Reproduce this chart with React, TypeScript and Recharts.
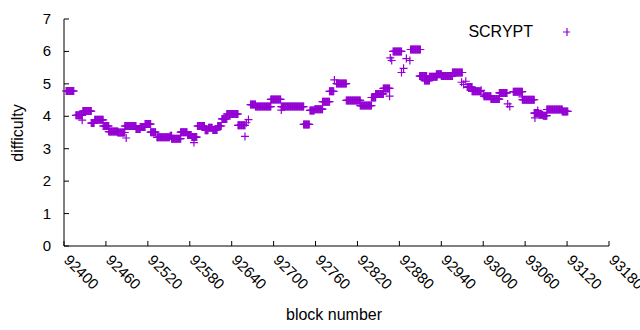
import React from "react";
import { ScatterChart, Scatter, XAxis, YAxis } from "recharts";

const purple = "#9400d3";
const font = "'Liberation Sans', Arial, sans-serif";

// difficulty: [first block, last block, difficulty]
const runs: [number, number, number][] = [
  [92403, 92414, 4.78],
  [92417, 92426, 4.03],
  [92426, 92426, 3.88],
  [92427, 92439, 4.16],
  [92439, 92443, 3.79],
  [92444, 92456, 3.89],
  [92456, 92464, 3.7],
  [92464, 92477, 3.53],
  [92477, 92487, 3.5],
  [92489, 92489, 3.33],
  [92487, 92503, 3.7],
  [92503, 92509, 3.61],
  [92509, 92516, 3.67],
  [92516, 92524, 3.76],
  [92524, 92531, 3.51],
  [92533, 92551, 3.35],
  [92552, 92554, 3.4],
  [92554, 92567, 3.31],
  [92567, 92576, 3.51],
  [92577, 92582, 3.42],
  [92583, 92590, 3.36],
  [92586, 92586, 3.19],
  [92591, 92601, 3.7],
  [92602, 92606, 3.57],
  [92607, 92612, 3.65],
  [92613, 92619, 3.58],
  [92620, 92625, 3.7],
  [92626, 92633, 3.92],
  [92633, 92649, 4.07],
  [92649, 92659, 3.72],
  [92659, 92659, 3.38],
  [92661, 92661, 3.8],
  [92664, 92664, 3.9],
  [92667, 92674, 4.36],
  [92674, 92696, 4.3],
  [92696, 92710, 4.52],
  [92711, 92711, 4.19],
  [92711, 92743, 4.3],
  [92743, 92751, 3.75],
  [92752, 92758, 4.18],
  [92759, 92770, 4.22],
  [92770, 92780, 4.45],
  [92780, 92786, 4.77],
  [92787, 92787, 5.12],
  [92790, 92804, 5.01],
  [92804, 92824, 4.49],
  [92824, 92840, 4.33],
  [92840, 92846, 4.58],
  [92846, 92857, 4.69],
  [92857, 92866, 4.86],
  [92866, 92866, 4.62],
  [92867, 92867, 5.8],
  [92869, 92869, 5.72],
  [92871, 92883, 6.0],
  [92883, 92883, 5.35],
  [92886, 92886, 5.48],
  [92890, 92890, 5.78],
  [92895, 92895, 5.72],
  [92896, 92910, 6.06],
  [92909, 92919, 5.24],
  [92916, 92923, 5.1],
  [92923, 92934, 5.22],
  [92933, 92940, 5.3],
  [92940, 92956, 5.24],
  [92956, 92970, 5.35],
  [92969, 92969, 5.05],
  [92972, 92972, 4.98],
  [92975, 92975, 5.08],
  [92977, 92984, 4.9],
  [92984, 92996, 4.77],
  [92997, 92997, 4.8],
  [93000, 93000, 4.68],
  [93001, 93011, 4.62],
  [93011, 93023, 4.53],
  [93023, 93034, 4.72],
  [93035, 93035, 4.38],
  [93038, 93038, 4.3],
  [93043, 93056, 4.76],
  [93056, 93056, 4.6],
  [93056, 93073, 4.51],
  [93073, 93079, 4.1],
  [93074, 93074, 3.95],
  [93078, 93078, 4.18],
  [93080, 93085, 4.05],
  [93086, 93091, 4.02],
  [93091, 93113, 4.21],
  [93113, 93121, 4.15],
];

const xTicks = [92400, 92460, 92520, 92580, 92640, 92700, 92760, 92820, 92880, 92940, 93000, 93060, 93120, 93180];
const yTicks = [0, 1, 2, 3, 4, 5, 6, 7];

const points: { block: number; difficulty: number }[] = [];
runs.forEach(([a, b, v]) => {
  for (let n = a; n <= b; n++) points.push({ block: n, difficulty: v });
});

const Cross = (props: any) => {
  const { cx, cy } = props;
  if (cx == null || cy == null) return null;
  return (
    <path d={`M${cx - 4},${cy}h8M${cx},${cy - 4}v8`} stroke={purple} strokeWidth={1.2} fill="none" />
  );
};

const BottomTick = (props: any) => {
  const { x, y, payload } = props;
  const ty = y + 15;
  return (
    <g>
      <line x1={x} y1={y} x2={x} y2={y - 5} stroke="#000" />
      <text x={x - 1} y={ty} transform={`rotate(45 ${x - 1} ${ty})`} fontSize={15} fontFamily={font} fill="#000">
        {payload.value}
      </text>
    </g>
  );
};

const TopTick = (props: any) => {
  const { x, y } = props;
  return <line x1={x} y1={y} x2={x} y2={y + 5} stroke="#000" />;
};

const LeftTick = (props: any) => {
  const { x, y, payload } = props;
  return (
    <g>
      <line x1={x} y1={y} x2={x + 5} y2={y} stroke="#000" />
      <text x={x - 13} y={y + 5} textAnchor="end" fontSize={15} fontFamily={font} fill="#000">
        {payload.value}
      </text>
    </g>
  );
};

const RightTick = (props: any) => {
  const { x, y } = props;
  return <line x1={x} y1={y} x2={x - 5} y2={y} stroke="#000" />;
};

export default function App() {
  return (
    <div style={{ position: "absolute", left: 0, top: 0, width: 640, height: 330, background: "#fff", fontFamily: font }}>
      <ScatterChart width={640} height={330} margin={{ top: 19, right: 31, left: 0, bottom: 0 }}>
        <XAxis
          xAxisId="bottom"
          dataKey="block"
          type="number"
          domain={[92400, 93180]}
          ticks={xTicks}
          height={84}
          tickSize={0}
          tickMargin={0}
          tick={<BottomTick />}
          axisLine={{ stroke: "#000" }}
          interval={0}
        />
        <XAxis
          xAxisId="top"
          orientation="top"
          dataKey="block"
          type="number"
          domain={[92400, 93180]}
          ticks={xTicks}
          height={0}
          tickSize={0}
          tickMargin={0}
          tick={<TopTick />}
          axisLine={{ stroke: "#000" }}
          interval={0}
        />
        <YAxis
          yAxisId="left"
          dataKey="difficulty"
          type="number"
          domain={[0, 7]}
          ticks={yTicks}
          width={64}
          tickSize={0}
          tickMargin={0}
          tick={<LeftTick />}
          axisLine={{ stroke: "#000" }}
          interval={0}
        />
        <YAxis
          yAxisId="right"
          orientation="right"
          dataKey="difficulty"
          type="number"
          domain={[0, 7]}
          ticks={yTicks}
          width={0}
          tickSize={0}
          tickMargin={0}
          tick={<RightTick />}
          axisLine={{ stroke: "#000" }}
          interval={0}
        />
        <Scatter
          name="SCRYPT"
          data={points}
          xAxisId="bottom"
          yAxisId="left"
          fill={purple}
          shape={<Cross />}
          isAnimationActive={false}
        />
      </ScatterChart>
      <svg width={140} height={20} style={{ position: "absolute", left: 430, top: 22 }}>
        <text x={103} y={15} textAnchor="end" fontSize={16} fontFamily={font} fill="#000">
          SCRYPT
        </text>
        <path d="M133,10h8M137,6v8" stroke={purple} strokeWidth={1.2} fill="none" />
      </svg>
      <div
        style={{
          position: "absolute",
          left: 18,
          top: 133,
          transform: "translate(-50%, -50%) rotate(-90deg)",
          fontSize: 16,
          whiteSpace: "nowrap",
        }}
      >
        difficulty
      </div>
      <div
        style={{
          position: "absolute",
          left: 334,
          top: 315,
          transform: "translate(-50%, -50%)",
          fontSize: 16,
          whiteSpace: "nowrap",
        }}
      >
        block number
      </div>
    </div>
  );
}
